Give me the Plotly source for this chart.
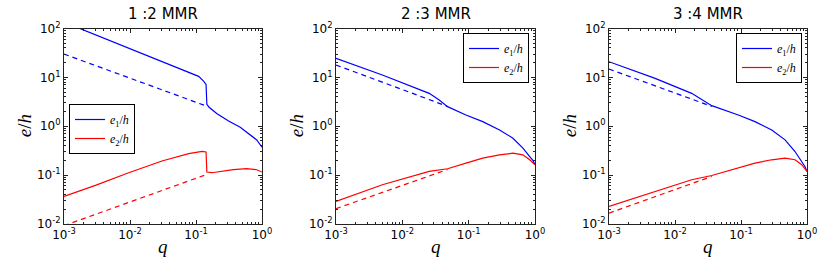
import plotly.graph_objects as go

# ---------------- data ----------------
titles = ["1 :2 MMR", "2 :3 MMR", "3 :4 MMR"]

# Panel 1 : 1:2 MMR
q1_e1 = [0.001, 0.00175, 0.0201, 0.0643, 0.0912, 0.1096, 0.129, 0.138, 0.142, 0.146, 0.158, 0.206, 0.316, 0.468, 0.661, 0.832, 1.0]
e1_p1 = [135, 100, 26.9, 14.5, 11.9, 10.5, 8.5, 7.6, 7.2, 2.8, 2.45, 1.82, 1.26, 0.955, 0.676, 0.525, 0.372]
q1_e1d = [0.001, 0.146]
e1d_p1 = [30.0, 2.57]
q1_e2 = [0.001, 0.00299, 0.00955, 0.0305, 0.0776, 0.1233, 0.142, 0.146, 0.175, 0.206, 0.367, 0.586, 0.832, 1.0]
e2_p1 = [0.0366, 0.0617, 0.112, 0.195, 0.275, 0.307, 0.297, 0.1156, 0.112, 0.1156, 0.129, 0.1355, 0.129, 0.1156]
q1_e2d = [0.001, 0.146]
e2d_p1 = [0.00925, 0.1035]

# Panel 2 : 2:3 MMR
q2_e1 = [0.001, 0.005, 0.0254, 0.036, 0.048, 0.091, 0.163, 0.292, 0.465, 0.658, 0.832, 0.93, 1.0]
e1_p2 = [24.4, 11.2, 4.71, 3.44, 2.52, 1.70, 1.245, 0.841, 0.569, 0.356, 0.240, 0.20, 0.163]
q2_e1d = [0.001, 0.048]
e1d_p2 = [17.9, 2.55]
q2_e2 = [0.001, 0.005, 0.0254, 0.048, 0.091, 0.163, 0.292, 0.465, 0.658, 0.832, 1.0]
e2_p2 = [0.0290, 0.0635, 0.119, 0.135, 0.176, 0.222, 0.260, 0.281, 0.260, 0.206, 0.163]
q2_e2d = [0.001, 0.048]
e2d_p2 = [0.0206, 0.130]

# Panel 3 : 3:4 MMR
q3_e1 = [0.001, 0.005, 0.0179, 0.0285, 0.036, 0.091, 0.163, 0.292, 0.465, 0.658, 0.832, 0.93, 1.0]
e1_p3 = [20.9, 9.55, 4.71, 3.18, 2.64, 1.70, 1.245, 0.841, 0.526, 0.304, 0.190, 0.15, 0.119]
q3_e1d = [0.001, 0.036]
e1d_p3 = [14.8, 2.55]
q3_e2 = [0.001, 0.005, 0.0179, 0.036, 0.091, 0.163, 0.292, 0.465, 0.658, 0.832, 1.0]
e2_p3 = [0.0230, 0.0465, 0.0804, 0.0984, 0.139, 0.176, 0.206, 0.222, 0.206, 0.163, 0.119]
q3_e2d = [0.001, 0.036]
e2d_p3 = [0.0167, 0.094]

x_tickvals = [0.001, 0.01, 0.1, 1]
x_ticktext = ["10<sup>-3</sup>", "10<sup>-2</sup>", "10<sup>-1</sup>", "10<sup>0</sup>"]
y_tickvals = [0.01, 0.1, 1, 10, 100]
y_ticktext = ["10<sup>-2</sup>", "10<sup>-1</sup>", "10<sup>0</sup>", "10<sup>1</sup>", "10<sup>2</sup>"]
minor_mult = [2, 3, 4, 5, 6, 7, 8, 9]

legend_names = ["<i>e</i><sub>1</sub>/<i>h</i>", "<i>e</i><sub>2</sub>/<i>h</i>"]
x_label = "<i>q</i>"
y_label = "<i>e</i>/<i>h</i>"

panels = [
    (q1_e1, e1_p1, q1_e1d, e1d_p1, q1_e2, e2_p1, q1_e2d, e2d_p1),
    (q2_e1, e1_p2, q2_e1d, e1d_p2, q2_e2, e2_p2, q2_e2d, e2d_p2),
    (q3_e1, e1_p3, q3_e1d, e1d_p3, q3_e2, e2_p3, q3_e2d, e2d_p3),
]

x_minor = [m * d for d in x_tickvals[:-1] for m in minor_mult]
y_minor = [m * d for d in y_tickvals[:-1] for m in minor_mult]

# ---------------- layout geometry ----------------
W, H = 830, 277
x_doms = [(64, 262), (336, 535), (609, 807)]
y_top, y_bot = 28.5, 224
legend_pos = [(69, 104), (463, 33), (736, 33)]

BLUE = "#0000ff"
RED = "#ff0000"
SANS = "DejaVu Sans"
SERIF = "Liberation Serif"

fig = go.Figure()

for i, (qa, ea, qad, ead, qb, eb, qbd, ebd) in enumerate(panels):
    ax = "" if i == 0 else str(i + 1)
    leg = "legend" if i == 0 else f"legend{i + 1}"
    common = dict(xaxis="x" + ax, yaxis="y" + ax, mode="lines", legend=leg)
    fig.add_trace(go.Scatter(x=qad, y=ead, line=dict(color=BLUE, width=1.2, dash="5px,4px"),
                             showlegend=False, hoverinfo="skip", **common))
    fig.add_trace(go.Scatter(x=qbd, y=ebd, line=dict(color=RED, width=1.2, dash="5px,4px"),
                             showlegend=False, hoverinfo="skip", **common))
    fig.add_trace(go.Scatter(x=qa, y=ea, name=legend_names[0],
                             line=dict(color=BLUE, width=1.2), **common))
    fig.add_trace(go.Scatter(x=qb, y=eb, name=legend_names[1],
                             line=dict(color=RED, width=1.2), **common))

    x0, x1 = x_doms[i]
    axis_common = dict(
        type="log", showline=True, linecolor="#222222", linewidth=1, mirror="ticks",
        ticks="inside", ticklen=4, tickwidth=1, tickcolor="#222222", showgrid=False,
        zeroline=False, automargin=False,
        tickfont=dict(family=SANS, size=12, color="black"),
    )
    fig.layout["xaxis" + ax] = dict(
        axis_common, domain=[x0 / W, x1 / W], range=[-3, 0],
        tickmode="array", tickvals=x_tickvals, ticktext=x_ticktext, anchor="y" + ax,
        minor=dict(tickmode="array", tickvals=x_minor, ticks="inside", ticklen=2,
                   tickwidth=0.8, tickcolor="#222222", showgrid=False),
    )
    fig.layout["yaxis" + ax] = dict(
        axis_common, domain=[1 - y_bot / H, 1 - y_top / H], range=[-2, 2],
        tickmode="array", tickvals=y_tickvals, ticktext=y_ticktext, anchor="x" + ax,
        minor=dict(tickmode="array", tickvals=y_minor, ticks="inside", ticklen=2,
                   tickwidth=0.8, tickcolor="#222222", showgrid=False),
    )
    lx, ly = legend_pos[i]
    fig.layout[leg] = dict(
        x=lx / W, y=1 - ly / H, xanchor="left", yanchor="top",
        bgcolor="white", bordercolor="black", borderwidth=1,
        font=dict(family=SERIF, size=12, color="black"),
        tracegroupgap=0, itemwidth=30,
    )
    fig.add_annotation(
        text=titles[i], x=(x0 + x1) / 2 / W, y=1 - 14 / H, xref="paper", yref="paper",
        showarrow=False, xanchor="center", yanchor="middle",
        font=dict(family=SANS, size=15, color="black"),
    )
    fig.add_annotation(
        text=x_label, x=(x0 + x1) / 2 / W, y=1 - 246 / H, xref="paper", yref="paper",
        showarrow=False, xanchor="center", yanchor="middle",
        font=dict(family=SERIF, size=19, color="black"),
    )
    fig.add_annotation(
        text=y_label, x=(x0 - 40) / W, y=1 - (y_top + y_bot) / 2 / H, xref="paper", yref="paper",
        showarrow=False, xanchor="center", yanchor="middle", textangle=-90,
        font=dict(family=SERIF, size=19, color="black"),
    )

fig.update_layout(
    template="none",
    width=W, height=H, margin=dict(l=0, r=0, t=0, b=0),
    paper_bgcolor="white", plot_bgcolor="white",
)

fig.write_html("out.html", config={"displayModeBar": False},
               post_script="document.body.style.margin='0px';")
